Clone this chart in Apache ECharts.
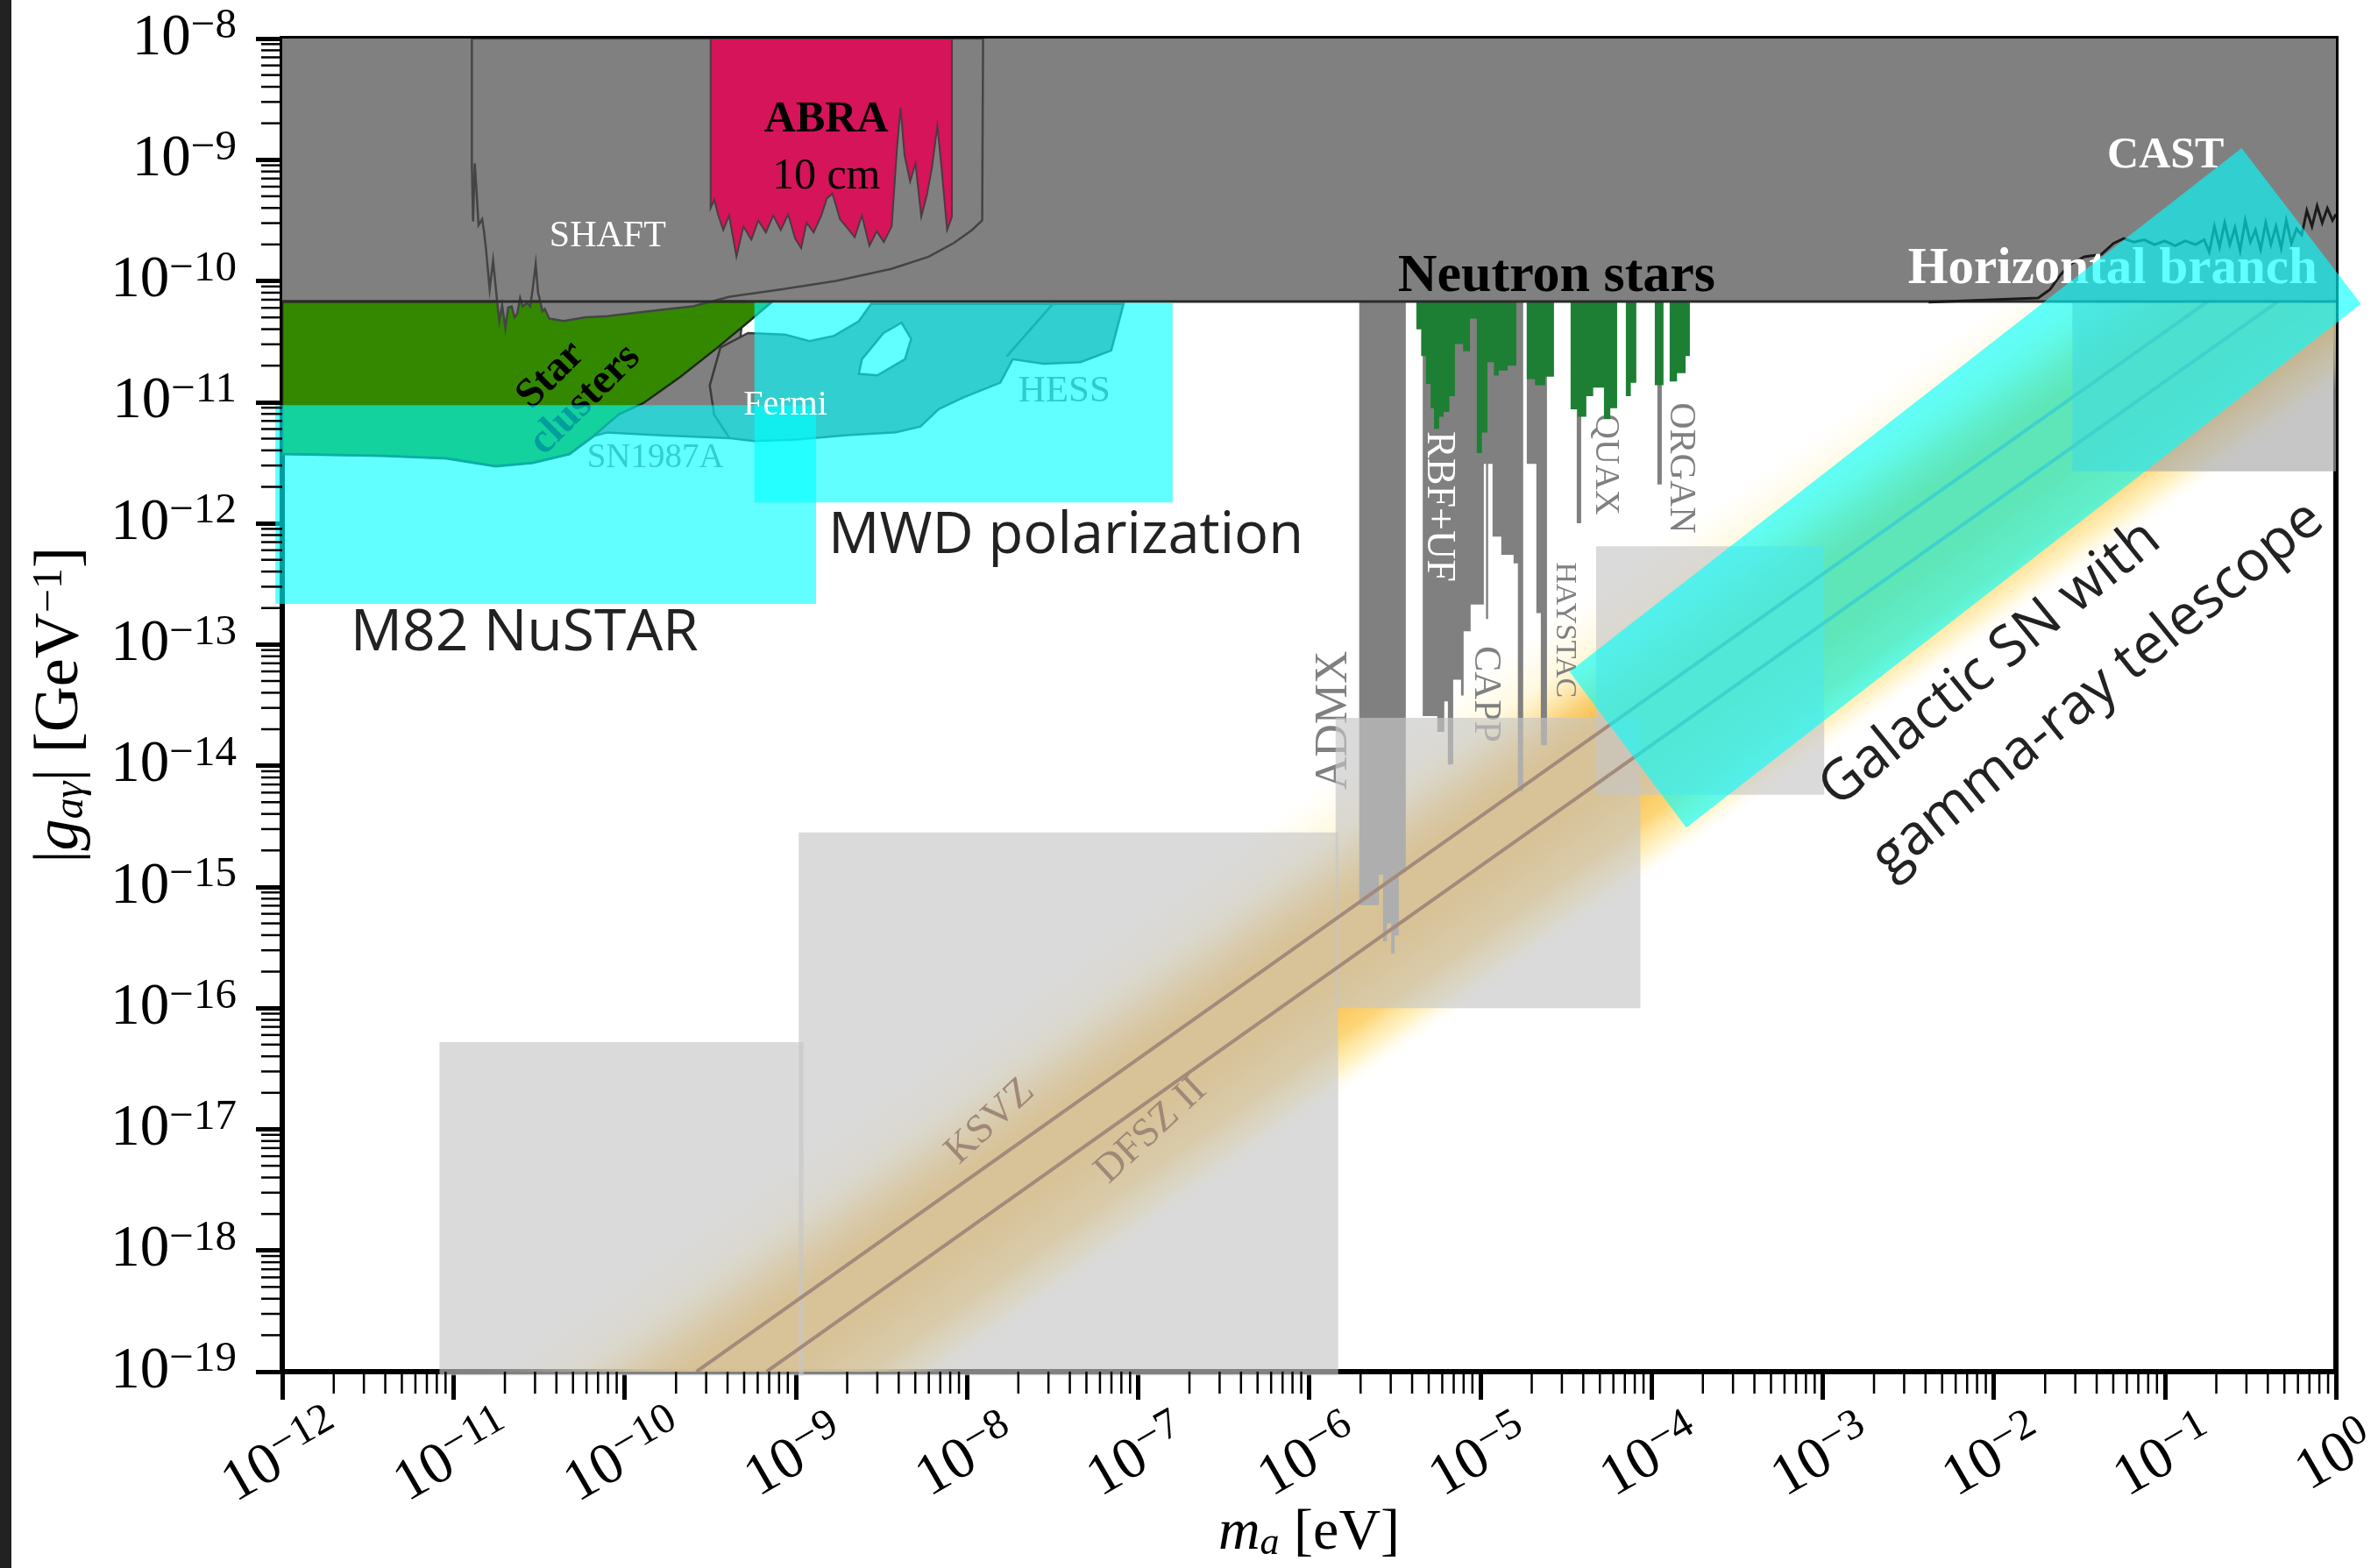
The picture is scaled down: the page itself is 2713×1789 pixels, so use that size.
<!DOCTYPE html>
<html><head><meta charset="utf-8">
<script src="https://cdn.jsdelivr.net/npm/echarts@6/dist/echarts.min.js"></script>
<style>html,body{margin:0;padding:0;background:#fff}#c{width:2713px;height:1789px}</style>
</head><body><div id="c"></div>
<script>
// ---------- DATA (log10 of m_a [eV], log10 of |g| [GeV^-1]) ----------
const massExponents = [-12,-11,-10,-9,-8,-7,-6,-5,-4,-3,-2,-1,0];
const couplingExponents = [-19,-18,-17,-16,-15,-14,-13,-12,-11,-10,-9,-8];

const horizontalBranchLimit = [[-12,-10.17],[0,-10.17]];
const castLimit = [[-2.38,-10.175],[-1.74,-10.14],[-1.67,-10.07],[-1.61,-9.95],[-1.55,-9.86],[-1.47,-9.80],[-1.37,-9.78],[-1.30,-9.69],[-1.24,-9.65],[-1.18,-9.68],[-1.12,-9.66],[-1.06,-9.70],[-1.00,-9.67],[-0.94,-9.71],[-0.88,-9.67],[-0.82,-9.70],[-0.77,-9.66],[-0.74,-9.76],[-0.71,-9.55],[-0.68,-9.72],[-0.65,-9.52],[-0.62,-9.70],[-0.59,-9.56],[-0.56,-9.75],[-0.53,-9.50],[-0.50,-9.68],[-0.47,-9.58],[-0.44,-9.74],[-0.41,-9.52],[-0.38,-9.70],[-0.35,-9.55],[-0.32,-9.73],[-0.29,-9.50],[-0.26,-9.69],[-0.23,-9.57],[-0.20,-9.62],[-0.17,-9.42],[-0.14,-9.55],[-0.11,-9.38],[-0.08,-9.52],[-0.05,-9.40],[-0.02,-9.50],[0,-9.45]];
const shaftLimit = [[-10.892,-8.0],[-10.892,-9.03],[-10.885,-9.51],[-10.875,-9.03],[-10.865,-9.25],[-10.853,-9.54],[-10.832,-9.49],[-10.821,-9.59],[-10.81,-9.73],[-10.788,-10.07],[-10.768,-9.83],[-10.745,-10.16],[-10.732,-10.33],[-10.715,-10.20],[-10.696,-10.39],[-10.68,-10.22],[-10.659,-10.21],[-10.643,-10.30],[-10.627,-10.27],[-10.61,-10.14],[-10.595,-10.21],[-10.57,-10.18],[-10.551,-10.21],[-10.535,-10.05],[-10.519,-9.86],[-10.505,-10.10],[-10.497,-10.14],[-10.48,-10.25],[-10.466,-10.23],[-10.44,-10.31],[-10.355,-10.33],[-10.228,-10.30],[-10.103,-10.29],[-9.8,-10.24],[-9.6,-10.21],[-9.385,-10.13],[-9.087,-10.07],[-8.764,-10.0],[-8.44,-9.90],[-8.223,-9.80],[-8.074,-9.685],[-7.97,-9.58],[-7.91,-9.50],[-7.905,-8.0]];
const abraLimit = [[-9.497,-8.0],[-9.497,-9.40],[-9.475,-9.33],[-9.454,-9.45],[-9.423,-9.58],[-9.389,-9.46],[-9.346,-9.80],[-9.305,-9.55],[-9.259,-9.66],[-9.218,-9.50],[-9.174,-9.60],[-9.131,-9.46],[-9.087,-9.58],[-9.044,-9.45],[-9.003,-9.65],[-8.968,-9.73],[-8.936,-9.52],[-8.895,-9.60],[-8.850,-9.46],[-8.818,-9.32],[-8.785,-9.28],[-8.741,-9.49],[-8.700,-9.56],[-8.655,-9.64],[-8.613,-9.46],[-8.569,-9.71],[-8.526,-9.59],[-8.485,-9.68],[-8.439,-9.55],[-8.408,-8.91],[-8.387,-8.57],[-8.364,-8.96],[-8.331,-9.18],[-8.300,-9.03],[-8.266,-9.47],[-8.233,-9.29],[-8.203,-9.06],[-8.172,-8.72],[-8.148,-9.06],[-8.115,-9.58],[-8.087,-9.47],[-8.087,-8.0]];
const starClusters = [[-12,-10.17],[-12,-11.427],[-11.403,-11.442],[-11.041,-11.463],[-10.753,-11.528],[-10.537,-11.50],[-10.322,-11.427],[-10.178,-11.276],[-10.034,-11.102],[-9.890,-11.008],[-9.674,-10.791],[-9.459,-10.552],[-9.279,-10.342],[-9.136,-10.17]];
const sn1987a = [[-12,-10.17],[-12,-11.43],[-11.403,-11.445],[-11.041,-11.466],[-10.753,-11.531],[-10.537,-11.503],[-10.322,-11.43],[-10.178,-11.279],[-10.10,-11.25],[-9.78,-11.275],[-9.387,-11.297],[-9.30,-10.17]];
const fermiHess = [[-8.559,-10.189],[-8.631,-10.333],[-8.775,-10.453],[-8.919,-10.497],[-9.063,-10.442],[-9.278,-10.43],[-9.440,-10.550],[-9.502,-10.863],[-9.476,-11.104],[-9.387,-11.297],[-9.243,-11.321],[-8.991,-11.309],[-8.703,-11.273],[-8.415,-11.249],[-8.271,-11.201],[-8.163,-11.056],[-8.019,-10.960],[-7.804,-10.839],[-7.732,-10.646],[-7.552,-10.683],[-7.336,-10.670],[-7.156,-10.574],[-7.084,-10.189]];
const fermiHessDivider = [[-7.767,-10.623],[-7.497,-10.189]];
const fermiHole = [[-8.381,-10.345],[-8.325,-10.478],[-8.361,-10.646],[-8.523,-10.779],[-8.631,-10.767],[-8.613,-10.646],[-8.487,-10.430]];
// haloscopes: [m_left, m_right, g_bottom]
const admxBars = [[-5.707,-5.592,-15.15],[-5.592,-5.568,-14.90],[-5.568,-5.545,-15.45],[-5.545,-5.52,-15.30],[-5.52,-5.50,-15.55],[-5.50,-5.476,-15.40],[-5.476,-5.435,-14.88]];
const haloscopeBars = [[-5.336,-5.251,-13.59],[-5.251,-5.210,-13.72],[-5.210,-5.189,-13.47],[-5.189,-5.158,-13.99],[-5.158,-5.112,-13.29],[-5.112,-5.097,-13.42],[-5.097,-5.056,-12.89],[-5.056,-5.020,-12.67],[-5.020,-4.979,-12.67],[-4.979,-4.928,-11.51],[-4.928,-4.877,-12.11],[-4.877,-4.805,-12.26],[-4.805,-4.780,-12.33],[-4.780,-4.749,-14.21],[-4.728,-4.672,-11.51],[-4.672,-4.646,-12.74],[-4.646,-4.610,-13.83],[-4.436,-4.410,-12.00],[-3.965,-3.939,-11.68],[-4.966,-4.954,-12.79]];
const neutronStarBars = [[-5.373,-5.345,-10.40],[-5.345,-5.317,-10.62],[-5.317,-5.29,-10.85],[-5.29,-5.27,-11.05],[-5.27,-5.24,-11.22],[-5.24,-5.214,-11.12],[-5.214,-5.18,-11.08],[-5.18,-5.148,-10.95],[-5.148,-5.10,-10.52],[-5.10,-5.060,-10.58],[-5.060,-5.020,-10.31],[-5.020,-4.99,-11.42],[-4.99,-4.958,-11.25],[-4.958,-4.92,-10.67],[-4.92,-4.892,-10.78],[-4.892,-4.84,-10.74],[-4.84,-4.789,-10.70],[-4.728,-4.68,-10.81],[-4.68,-4.62,-10.86],[-4.62,-4.569,-10.79],[-4.472,-4.431,-11.06],[-4.431,-4.380,-11.12],[-4.380,-4.34,-10.95],[-4.34,-4.277,-10.88],[-4.277,-4.24,-11.14],[-4.24,-4.200,-11.05],[-4.149,-4.12,-10.95],[-4.12,-4.088,-10.84],[-3.980,-3.929,-10.86],[-3.893,-3.85,-10.83],[-3.85,-3.80,-10.76],[-3.80,-3.775,-10.62]];
// boxes: [m_left, m_right, g_top, g_bottom]
const projectionBoxes = [[-11.081,-8.954,-16.28,-19.03],[-8.982,-5.83,-14.55,-19.03],[-5.845,-4.064,-13.604,-16.0],[-4.323,-2.99,-12.19,-14.24]];
const castBox = [-1.54,0,-10.17,-11.57];
const m82NustarBox = [-12.04,-8.881,-11.025,-12.664];
const mwdBox = [-9.241,-6.797,-10.18,-11.827];
const galacticSN = [[-0.551,-8.904],[0.146,-10.19],[-3.796,-14.51],[-4.478,-13.224]];
const ksvzLine = [[-9.58,-19],[-0.75,-10.17]];
const dfszLine = [[-9.17,-19],[-0.34,-10.17]];
const qcdBandUpper = [[-10.8,-19],[0,-8.2]];
const qcdBandLower = [[-8.1,-19],[0,-10.9]];

// ---------- STYLE / HELPERS ----------
const SERIF = '"Liberation Serif","DejaVu Serif",serif';
const SANS = '"Open Sans","Noto Sans",sans-serif';
const CYAN = 'rgba(0,255,255,0.62)';
const GRAY = '#808080';

function clipPoly(pts, xmin, xmax, ymin, ymax) {
  const edges = [
    [p => p[0] >= xmin, (a,b) => { const t=(xmin-a[0])/(b[0]-a[0]); return [xmin, a[1]+t*(b[1]-a[1])]; }],
    [p => p[0] <= xmax, (a,b) => { const t=(xmax-a[0])/(b[0]-a[0]); return [xmax, a[1]+t*(b[1]-a[1])]; }],
    [p => p[1] >= ymin, (a,b) => { const t=(ymin-a[1])/(b[1]-a[1]); return [a[0]+t*(b[0]-a[0]), ymin]; }],
    [p => p[1] <= ymax, (a,b) => { const t=(ymax-a[1])/(b[1]-a[1]); return [a[0]+t*(b[0]-a[0]), ymax]; }]
  ];
  let out = pts;
  for (const [inside, inter] of edges) {
    const input = out; out = [];
    for (let i = 0; i < input.length; i++) {
      const cur = input[i], prev = input[(i + input.length - 1) % input.length];
      if (inside(cur)) { if (!inside(prev)) out.push(inter(prev, cur)); out.push(cur); }
      else if (inside(prev)) out.push(inter(prev, cur));
    }
  }
  return out;
}
function barsToPolys(bars, top) {
  const polys = []; let cur = null;
  bars.forEach(b => {
    if (cur && Math.abs(cur.end - b[0]) < 1e-9) { cur.pts.push([b[0], b[2]], [b[1], b[2]]); cur.end = b[1]; }
    else { if (cur) polys.push(cur); cur = {pts: [[b[0], top], [b[0], b[2]], [b[1], b[2]]], end: b[1]}; }
  });
  if (cur) polys.push(cur);
  return polys.map(c => c.pts.concat([[c.end, top]]));
}
function boxPts(b) { return [[b[0], b[2]], [b[1], b[2]], [b[1], b[3]], [b[0], b[3]]]; }
const P = (api, pts) => pts.map(p => api.coord(p));
function polyEl(api, pts, style) { return {type: 'polygon', shape: {points: P(api, pts)}, style: style}; }
function lineEl(api, pts, style) { return {type: 'polyline', shape: {points: P(api, pts)}, style: Object.assign({fill: null}, style)}; }
function textEl(api, a) {
  const p = api.coord(a.at);
  return {type: 'text', x: p[0], y: p[1], rotation: (a.rot || 0) * Math.PI / 180,
    style: {text: a.text, fill: a.color, fontSize: a.size, fontFamily: a.family || SERIF,
      fontWeight: a.weight || 'normal', align: 'center', verticalAlign: 'middle'}};
}
function layer(z, build, clip) {
  return {type: 'custom', coordinateSystem: 'cartesian2d', z: z, clip: clip !== false, silent: true,
    data: [[-6, -13]], renderItem: (params, api) => ({type: 'group', children: build(api)})};
}

// annotation placement (data coordinates of label centres)
const labelsUnderBoxes = [
  {text: 'ADMX', at: [-5.85, -13.625], rot: 90, size: 52, color: GRAY},
  {text: 'RBF+UF', at: [-5.245, -11.861], rot: -90, size: 46, color: '#ffffff'},
  {text: 'CAPP', at: [-4.968, -13.41], rot: -90, size: 44, color: GRAY},
  {text: 'HAYSTAC', at: [-4.51, -12.88], rot: -90, size: 34, color: GRAY},
  {text: 'QUAX', at: [-4.269, -11.514], rot: -90, size: 40, color: GRAY},
  {text: 'ORGAN', at: [-3.832, -11.543], rot: -90, size: 42, color: GRAY}
];
const labelsOnBand = [
  {text: 'KSVZ', at: [-7.863, -16.937], rot: 43, size: 46, color: '#a08878'},
  {text: 'DFSZ II', at: [-6.924, -17.01], rot: 43, size: 46, color: '#a08878'}
];
const labelsUnderCyan = [
  {text: 'Horizontal branch', at: [-1.305, -9.91], size: 59, weight: 'bold', color: '#ffffff'},
  {text: 'Star', at: [-10.43, -10.78], rot: 45, size: 48, weight: 'bold', color: '#000'},
  {text: 'clusters', at: [-10.23, -10.98], rot: 45, size: 48, weight: 'bold', color: '#000'},
  {text: 'HESS', at: [-7.43, -10.91], size: 43, color: '#767676'},
  {text: 'SN1987A', at: [-9.82, -11.46], size: 39, color: GRAY}
];
const labelsTop = [
  {text: 'SHAFT', at: [-10.098, -9.633], size: 42, color: '#ffffff'},
  {text: 'ABRA', at: [-8.821, -8.67], size: 50, weight: 'bold', color: '#000'},
  {text: '10 cm', at: [-8.821, -9.145], size: 50, color: '#000'},
  {text: 'Neutron stars', at: [-4.554, -9.967], size: 62, weight: 'bold', color: '#000'},
  {text: 'CAST', at: [-0.995, -8.97], size: 50, weight: 'bold', color: '#ffffff'},
  {text: 'Fermi', at: [-9.06, -11.03], size: 40, color: '#ffffff'},
  {text: 'MWD polarization', at: [-7.421, -12.111], size: 65, family: SANS, color: '#222'},
  {text: 'M82 NuSTAR', at: [-10.585, -12.911], size: 66, family: SANS, color: '#222'},
  {text: 'Galactic SN with', at: [-2.02, -13.16], rot: 39, size: 64, family: SANS, color: '#222'},
  {text: 'gamma-ray telescope', at: [-1.39, -13.37], rot: 39, size: 64, family: SANS, color: '#222'}
];

const bandStops = [
  {offset: 0, color: 'rgba(255,245,200,0)'},
  {offset: 0.18, color: 'rgba(255,236,160,0.35)'},
  {offset: 0.33, color: 'rgba(250,200,95,0.85)'},
  {offset: 0.42, color: 'rgba(248,185,60,0.95)'},
  {offset: 0.65, color: 'rgba(248,185,60,0.95)'},
  {offset: 0.82, color: 'rgba(252,205,95,0.85)'},
  {offset: 0.92, color: 'rgba(255,230,140,0.5)'},
  {offset: 1, color: 'rgba(255,248,210,0)'}
];

const expLabel = v => '{b|10}{s|' + (v === 0 ? '0' : '\u2212' + Math.abs(v)) + '}';
const tickRich = {
  b: {fontSize: 67, fontFamily: SERIF, color: '#000', lineHeight: 76},
  s: {fontSize: 49, fontFamily: SERIF, color: '#000', verticalAlign: 'top', lineHeight: 49}
};

const series = [
  layer(1, api => {
    const band = clipPoly([qcdBandUpper[0], qcdBandUpper[1], qcdBandLower[1], qcdBandLower[0]], -12, 0, -19, -10.17);
    const A = api.coord(qcdBandUpper[0]), A2 = api.coord(qcdBandUpper[1]), C = api.coord(qcdBandLower[0]);
    let ux = A2[0] - A[0], uy = A2[1] - A[1]; const L = Math.hypot(ux, uy); ux /= L; uy /= L;
    const nx = -uy, ny = ux; const d = (C[0] - A[0]) * nx + (C[1] - A[1]) * ny;
    const grad = new echarts.graphic.LinearGradient(A[0], A[1], A[0] + nx * d, A[1] + ny * d, bandStops, true);
    return [polyEl(api, band, {fill: grad})];
  }),
  layer(2, api => barsToPolys(admxBars, -10.0).concat(barsToPolys(haloscopeBars, -10.0)).map(p => polyEl(api, p, {fill: GRAY}))),
  layer(3, api => labelsUnderBoxes.map(a => textEl(api, a)), false),
  layer(4, api => projectionBoxes.map(b => polyEl(api, boxPts(b), {fill: 'rgba(198,198,198,0.65)'}))
    .concat([polyEl(api, boxPts(castBox), {fill: 'rgba(168,168,168,0.65)'})]), false),
  layer(5, api => [lineEl(api, ksvzLine, {stroke: '#a38a7b', lineWidth: 4}), lineEl(api, dfszLine, {stroke: '#a38a7b', lineWidth: 4})]
    .concat(labelsOnBand.map(a => textEl(api, a)))),
  layer(6, api => [polyEl(api, [[-12, -8], [0, -8], [0, -10.17], [-12, -10.17]], {fill: GRAY}),
    polyEl(api, [[-2.38, -8]].concat(castLimit).concat([[0, -8]]), {fill: GRAY})]),
  layer(7, api => [polyEl(api, sn1987a, {fill: GRAY, stroke: '#3a3a3a', lineWidth: 2.5})]),
  layer(8, api => [polyEl(api, starClusters, {fill: '#338800', stroke: '#1f2a10', lineWidth: 2.5})]),
  layer(9, api => [polyEl(api, fermiHess, {fill: GRAY, stroke: '#3a3a3a', lineWidth: 2.5}),
    lineEl(api, fermiHessDivider, {stroke: '#3a3a3a', lineWidth: 2.5}),
    polyEl(api, fermiHole, {fill: '#ffffff', stroke: '#3a3a3a', lineWidth: 2.5})]),
  layer(10, api => [polyEl(api, shaftLimit, {fill: GRAY, stroke: '#444', lineWidth: 2.5})]),
  layer(11, api => [polyEl(api, abraLimit, {fill: '#d5145a', stroke: '#4d3a40', lineWidth: 2})]),
  layer(12, api => barsToPolys(neutronStarBars, -10.17).map(p => polyEl(api, p, {fill: '#1d7f33'}))),
  layer(13, api => [lineEl(api, horizontalBranchLimit, {stroke: '#2a2a2a', lineWidth: 3}),
    lineEl(api, castLimit, {stroke: '#1a1a1a', lineWidth: 3})]),
  layer(14, api => labelsUnderCyan.map(a => textEl(api, a)), false),
  layer(15, api => [polyEl(api, boxPts(m82NustarBox), {fill: CYAN}), polyEl(api, boxPts(mwdBox), {fill: CYAN}),
    polyEl(api, galacticSN, {fill: CYAN})], false),
  layer(16, api => labelsTop.map(a => textEl(api, a)), false),
  layer(17, api => {
    const els = [];
    for (let n = massExponents[0]; n < massExponents[massExponents.length - 1]; n++)
      for (let k = 2; k <= 9; k++) {
        const p = api.coord([n + Math.log10(k), couplingExponents[0]]);
        els.push({type: 'line', shape: {x1: p[0], y1: p[1], x2: p[0], y2: p[1] + 25}, style: {stroke: '#000', lineWidth: 2.5}});
      }
    for (let n = couplingExponents[0]; n < couplingExponents[couplingExponents.length - 1]; n++)
      for (let k = 2; k <= 9; k++) {
        const p = api.coord([massExponents[0], n + Math.log10(k)]);
        els.push({type: 'line', shape: {x1: p[0], y1: p[1], x2: p[0] - 24, y2: p[1]}, style: {stroke: '#000', lineWidth: 2.5}});
      }
    return els;
  }, false)
];

const chart = echarts.init(document.getElementById('c'), null, {renderer: 'canvas'});
chart.setOption({
  animation: false,
  backgroundColor: '#ffffff',
  textStyle: {fontFamily: SERIF},
  grid: {left: 322, top: 44, right: 48, bottom: 224, show: true, borderColor: '#000', borderWidth: 6,
    backgroundColor: 'transparent', containLabel: false, outerBoundsMode: 'none'},
  graphic: [{type: 'rect', left: 0, top: 0, z: 100, shape: {width: 13, height: 1789}, style: {fill: '#222'}}],
  xAxis: {
    type: 'value', min: massExponents[0], max: massExponents[massExponents.length - 1], interval: 1,
    splitLine: {show: false}, axisLine: {show: false, onZero: false},
    axisTick: {show: true, inside: false, length: 32, lineStyle: {color: '#000', width: 5}},
    axisLabel: {formatter: expLabel, rich: tickRich, rotate: 30, align: 'center', verticalAlign: 'middle',
      margin: 98, showMinLabel: true, showMaxLabel: true},
    name: '{i|m}{sub|a} [eV]', nameLocation: 'middle', nameGap: 152, nameMoveOverlap: false,
    nameTextStyle: {fontSize: 66, fontFamily: SERIF, color: '#000', verticalAlign: 'top',
      rich: {i: {fontSize: 66, fontStyle: 'italic', fontFamily: SERIF, color: '#000'},
             sub: {fontSize: 44, fontStyle: 'italic', fontFamily: SERIF, color: '#000', verticalAlign: 'bottom'}}}
  },
  yAxis: {
    type: 'value', min: couplingExponents[0], max: couplingExponents[couplingExponents.length - 1], interval: 1,
    splitLine: {show: false}, axisLine: {show: false, onZero: false},
    axisTick: {show: true, inside: false, length: 30, lineStyle: {color: '#000', width: 5}},
    axisLabel: {formatter: expLabel, rich: tickRich, margin: 52, showMinLabel: true, showMaxLabel: true},
    name: '|{i|g}{sub|a\u03b3}| [GeV{sup|\u22121}]', nameLocation: 'middle', nameGap: 217, nameRotate: 90, nameMoveOverlap: false,
    nameTextStyle: {fontSize: 72, fontFamily: SERIF, color: '#000',
      rich: {i: {fontSize: 72, fontStyle: 'italic', fontFamily: SERIF, color: '#000'},
             sub: {fontSize: 48, fontStyle: 'italic', fontFamily: SERIF, color: '#000', verticalAlign: 'bottom'},
             sup: {fontSize: 48, fontFamily: SERIF, color: '#000', verticalAlign: 'top'}}}
  },
  series: series
});
</script></body></html>
